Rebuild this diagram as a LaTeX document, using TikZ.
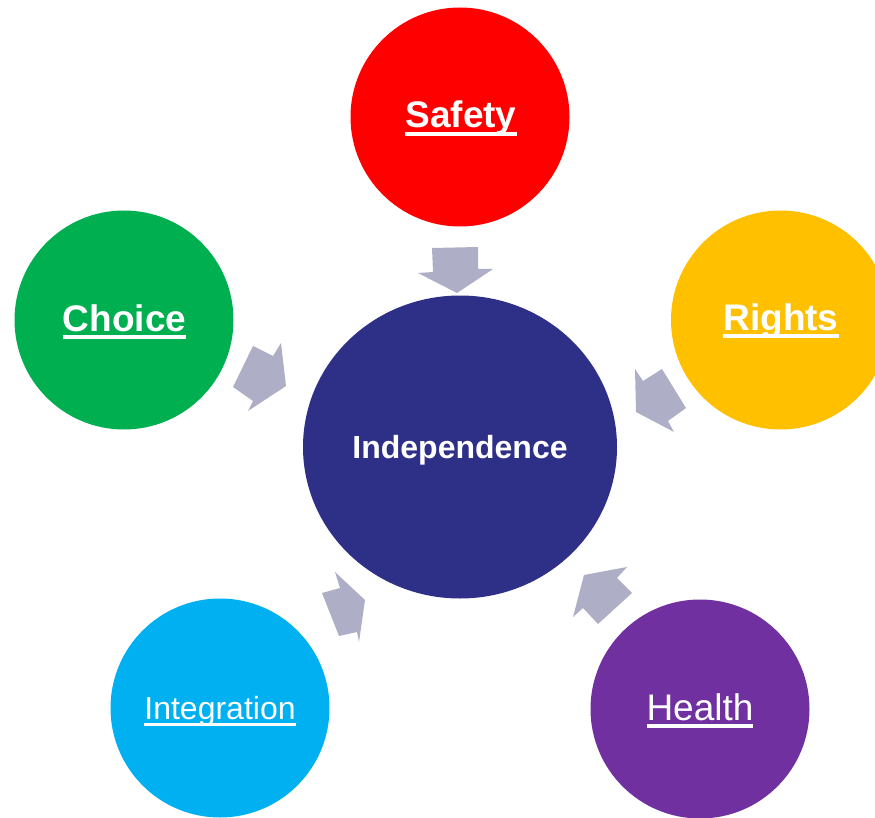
\documentclass[tikz,border=0pt]{standalone}
\usepackage{fontspec}
\setmainfont{Liberation Sans}
\usetikzlibrary{shapes.geometric}
\definecolor{cSafety}{HTML}{FF0000}
\definecolor{cRights}{HTML}{FFC000}
\definecolor{cChoice}{HTML}{00B050}
\definecolor{cInteg}{HTML}{00B0F0}
\definecolor{cHealth}{HTML}{7030A0}
\definecolor{cCenter}{HTML}{2E3088}
\definecolor{cArrow}{HTML}{AEAFC7}
\newcommand\ulword[1]{\setbox0\hbox{#1}\rlap{\rule[-0.22em]{\wd0}{0.1em}}\box0}
\begin{document}
\begin{tikzpicture}[x=1pt,y=-1pt,
  bubble/.style={circle, inner sep=0pt, minimum size=219pt, draw=none},
  lbl/.style={anchor=base, text=white, inner sep=0pt},
  blockarrow/.style={fill=cArrow, draw=none}]
\useasboundingbox (0,0) rectangle (875,818);
\clip (0,0) rectangle (875,818);
% bubbles
\node[bubble, fill=cSafety] (safety) at (460,117) {};
\node[bubble, fill=cChoice] (choice) at (124,320) {};
\node[bubble, fill=cRights] (rights) at (780.5,320) {};
\node[bubble, fill=cInteg]  (integ)  at (220,708) {};
\node[bubble, fill=cHealth] (health) at (700,709) {};
\node[ellipse, fill=cCenter, inner sep=0pt, minimum width=314pt, minimum height=303pt] (center) at (460,447) {};
% labels
\node[lbl] (safetyT) at (461,128) {\fontsize{37}{40}\selectfont\bfseries\ulword{Safety}};
\node[lbl] (choiceT) at (124.5,331) {\fontsize{37}{40}\selectfont\bfseries\ulword{Choice}};
\node[lbl] (rightsT) at (781,330) {\fontsize{37}{40}\selectfont\bfseries\ulword{Rights}};
\node[lbl] (integT)  at (220,719) {\fontsize{32}{36}\selectfont\ulword{Integration}};
\node[lbl] (healthT) at (700,720) {\fontsize{37}{40}\selectfont\ulword{Health}};
\node[lbl] (centerT) at (460,458) {\fontsize{32}{36}\selectfont\bfseries Independence};
% block arrows pointing to the centre
\fill[blockarrow] (432,248) -- (478,247) -- (478,269) -- (493,269) -- (457,293) -- (418,273) -- (433,272) -- cycle;
\fill[blockarrow] (253,346) -- (273,356) -- (281,343) -- (286,386) -- (248,411) -- (253,401) -- (233,387) -- cycle;
\fill[blockarrow] (635,369) -- (643,381) -- (662,369) -- (686,408) -- (668,421) -- (674,432) -- (636,412) -- cycle;
\fill[blockarrow] (335,572) -- (340,588) -- (322,593) -- (339,636) -- (357,632) -- (359,642) -- (365,600) -- cycle;
\fill[blockarrow] (584,575) -- (627,567) -- (617,578) -- (632,593) -- (598,624) -- (583,608) -- (573,617) -- cycle;
\end{tikzpicture}
\end{document}
